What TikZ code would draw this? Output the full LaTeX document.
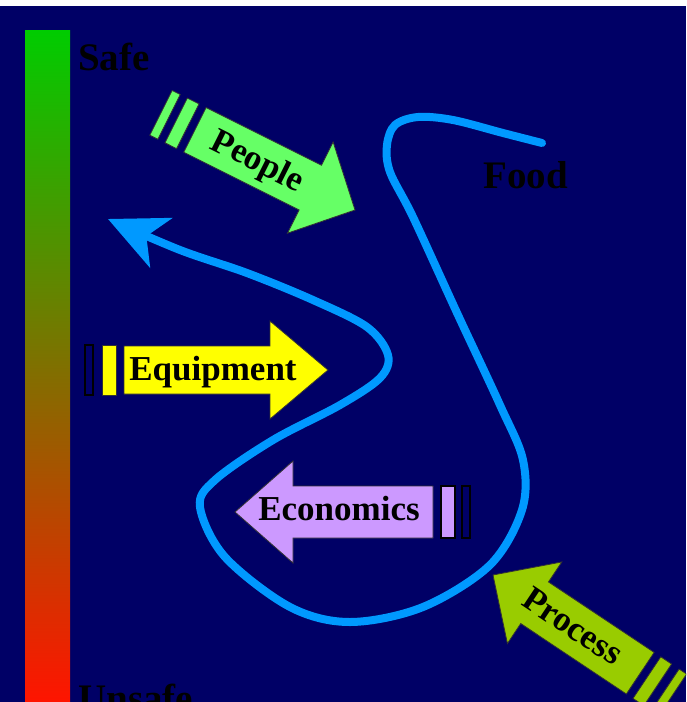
\documentclass[tikz,border=0pt]{standalone}
\usepackage{fontspec}
\setmainfont{Liberation Serif}
\usepackage{xcolor}
\usetikzlibrary{arrows.meta}

\definecolor{navy}{RGB}{0,0,102}
\definecolor{safegreen}{RGB}{0,204,0}
\definecolor{midbrown}{RGB}{165,140,0}
\definecolor{unsafered}{RGB}{255,20,0}
\definecolor{loopblue}{RGB}{0,153,255}
\definecolor{peoplegreen}{RGB}{102,255,102}
\definecolor{equipyellow}{RGB}{255,255,0}
\definecolor{econlilac}{RGB}{204,153,255}
\definecolor{processgreen}{RGB}{153,204,0}

\begin{document}
\begin{tikzpicture}[
    x=1pt, y=-1pt,
    big/.style={font=\fontsize{39}{41}\selectfont\bfseries, text=black, inner sep=0pt},
    label/.style={font=\fontsize{35}{37}\selectfont\bfseries, text=black, inner sep=0pt},
    body/.style={draw=black!80, line width=0.8pt},
    stripe/.style={draw=black, line width=1.2pt},
    loop/.style={draw=loopblue, line width=8pt, line cap=round},
]
\useasboundingbox (0,0) rectangle (686,702);
\clip (0,0) rectangle (686,702);

% Background
\fill[white] (0,0) rectangle (686,702);
\fill[navy] (0,6) rectangle (686,702);

% Safety scale
\shade[top color=safegreen, middle color=midbrown, bottom color=unsafered] (25,30) rectangle (70,702);
\node[big, anchor=base west] (safe) at (78,70) {Safe};
\node[big, anchor=base west] (unsafe) at (78,711) {Unsafe};

% Food path
\coordinate (foodend) at (542,143);
\coordinate (looptip) at (108,219);
\draw[loop, -{Stealth[length=58pt, width=54pt, inset=16pt]}]
    plot[smooth, tension=0.55] coordinates {
    (foodend) (503,133) (453,120) (418,117) (395,125) (387,145) (390,172)
    (413,217) (458,315) (500,405) (523,460) (522,510) (490,565)
    (423,607) (350,622) (290,607) (225,557) (200,507) (215,480)
    (273,440) (340,405) (380,378) (388,355) (367,327) (313,300)
    (247,273) (180,250) (looptip)};
\node[big, anchor=base west] (food) at (483,188) {Food};

% People
\begin{scope}[shift={(355,210)}, rotate=-26.6]
\filldraw[body, fill=peoplegreen] (0,0) -- (-50,-51) -- (-50,-25) -- (-179,-25) -- (-179,25) -- (-50,25) -- (-50,51) -- cycle;
\filldraw[body, fill=peoplegreen] (-200,-25) rectangle (-187,25);
\filldraw[body, fill=peoplegreen] (-217,-25) rectangle (-208,25);
\end{scope}
\node[label, rotate=-26.6] (people) at (257,163) {People};

% Equipment
\begin{scope}[shift={(328,370)}]
\filldraw[body, fill=equipyellow] (0,0) -- (-58,-49) -- (-58,-24) -- (-204,-24) -- (-204,24) -- (-58,24) -- (-58,49) -- cycle;
\filldraw[body, fill=equipyellow] (-226,-25) rectangle (-212,25);
\filldraw[stripe, fill=navy] (-243,-25) rectangle (-235,25);
\end{scope}
\node[label] (equipment) at (213,372) {Equipment};

% Economics
\begin{scope}[shift={(235,512)}, rotate=180]
\filldraw[body, fill=econlilac] (0,0) -- (-58,-51) -- (-58,-26) -- (-198,-26) -- (-198,26) -- (-58,26) -- (-58,51) -- cycle;
\filldraw[stripe, fill=econlilac] (-220,-26) rectangle (-206,26);
\filldraw[stripe, fill=navy] (-235,-26) rectangle (-227,26);
\end{scope}
\node[label] (economics) at (339,509) {Economics};

% Process
\begin{scope}[shift={(493,575)}, rotate=146.3]
\filldraw[body, fill=processgreen] (0,0) -- (-50,-49) -- (-50,-25) -- (-177,-25) -- (-177,25) -- (-50,25) -- (-50,49) -- cycle;
\filldraw[body, fill=processgreen] (-198,-25) rectangle (-185,25);
\filldraw[body, fill=processgreen] (-216,-25) rectangle (-207,25);
\end{scope}
\node[label, rotate=-33.7] (process) at (573,626) {Process};

\end{tikzpicture}
\end{document}
